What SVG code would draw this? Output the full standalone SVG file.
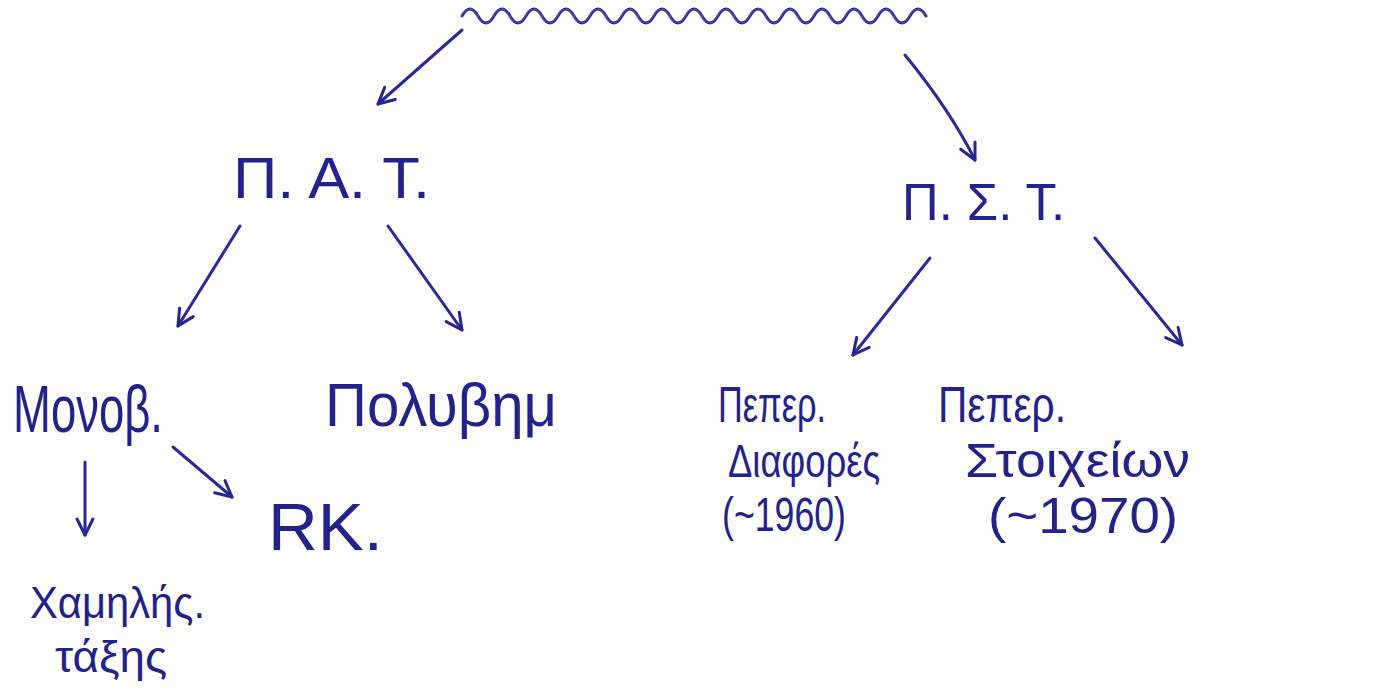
<svg xmlns="http://www.w3.org/2000/svg" width="1400" height="689" viewBox="0 0 1400 689">
<defs>
<marker id="ah" viewBox="0 0 20 20" refX="18" refY="10" markerWidth="20" markerHeight="20" markerUnits="userSpaceOnUse" orient="auto">
<path d="M2,2 L18,10 L2,18" fill="none" stroke="#26268f" stroke-width="3" stroke-linecap="round" stroke-linejoin="round"/>
</marker>
<style>
.t{font-family:"Liberation Sans","DejaVu Sans",sans-serif;fill:#22228a;}
.c{fill:none;stroke:#2a2a96;stroke-width:3;stroke-linecap:round;marker-end:url(#ah);}
</style>
</defs>
<rect width="1400" height="689" fill="#fdfdfb"/>
<g id="root">
<path d="M462,16 q8,-14 16,0 t16,0 t16,0 t16,0 t16,0 t16,0 t16,0 t16,0 t16,0 t16,0 t16,0 t16,0 t16,0 t16,0 t16,0 t16,0 t16,0 t16,0 t16,0 t16,0 t16,0 t16,0 t16,0 t16,0 t16,0 t16,0 t16,0 t16,0 t16,0" fill="none" stroke="#3a3a9a" stroke-width="3" stroke-linecap="round"/>
</g>
<g id="connectors">
<path class="c" d="M462,30 L378,104"/>
<path class="c" d="M905,55 Q950,110 975,160"/>
<path class="c" d="M240,226 L178,326"/>
<path class="c" d="M388,226 L462,330"/>
<path class="c" d="M930,258 L853,355"/>
<path class="c" d="M1095,238 L1182,345"/>
<path class="c" d="M85,462 L85,535"/>
<path class="c" d="M173,447 L232,497"/>
</g>
<g id="node-pat"><text class="t" x="233" y="198" font-size="58" textLength="197" lengthAdjust="spacingAndGlyphs">Π. Α. Τ.</text></g>
<g id="node-pst"><text class="t" x="902" y="220" font-size="52" textLength="163" lengthAdjust="spacingAndGlyphs">Π. Σ. Τ.</text></g>
<g id="node-monov"><text class="t" x="13" y="432" font-size="66" textLength="150" lengthAdjust="spacingAndGlyphs">Μονοβ.</text></g>
<g id="node-polyvim"><text class="t" x="325" y="426" font-size="62" textLength="232" lengthAdjust="spacingAndGlyphs">Πολυβημ</text></g>
<g id="node-rk"><text class="t" x="268" y="550" font-size="66" textLength="115" lengthAdjust="spacingAndGlyphs">RK.</text></g>
<g id="node-xamilis">
<text class="t" x="30" y="618" font-size="44" textLength="175" lengthAdjust="spacingAndGlyphs">Χαμηλής.</text>
<text class="t" x="55" y="672" font-size="44" textLength="112" lengthAdjust="spacingAndGlyphs">τάξης</text>
</g>
<g id="node-diafores">
<text class="t" x="718" y="422" font-size="50" textLength="108" lengthAdjust="spacingAndGlyphs">Πεπερ.</text>
<text class="t" x="728" y="477" font-size="46" textLength="152" lengthAdjust="spacingAndGlyphs">Διαφορές</text>
<text class="t" x="722" y="531" font-size="48" textLength="124" lengthAdjust="spacingAndGlyphs">(~1960)</text>
</g>
<g id="node-stoixeion">
<text class="t" x="938" y="422" font-size="50" textLength="128" lengthAdjust="spacingAndGlyphs">Πεπερ.</text>
<text class="t" x="965" y="477" font-size="48" textLength="225" lengthAdjust="spacingAndGlyphs">Στοιχείων</text>
<text class="t" x="988" y="533" font-size="50" textLength="190" lengthAdjust="spacingAndGlyphs">(~1970)</text>
</g>
</svg>
